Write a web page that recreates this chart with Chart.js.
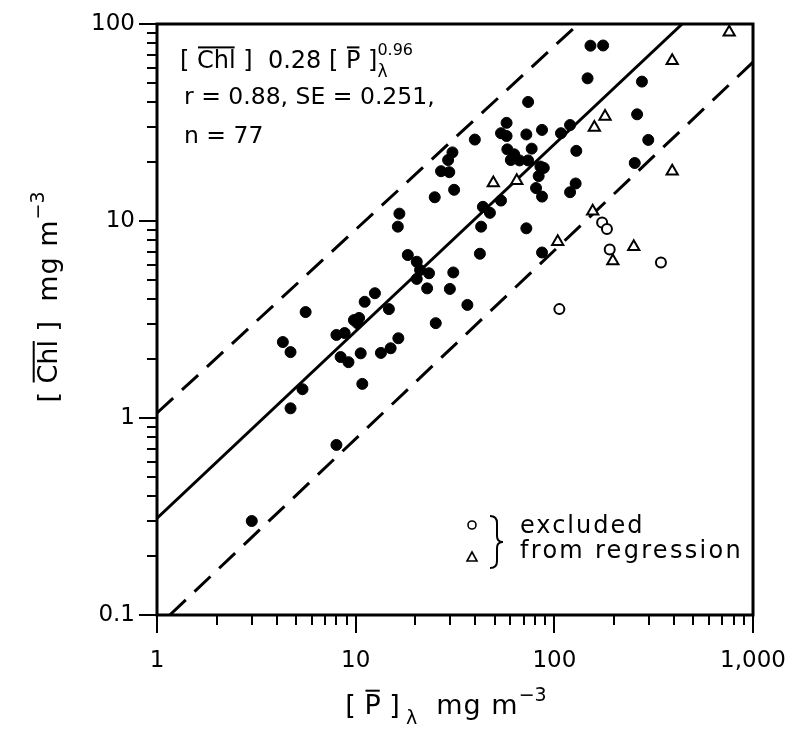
<!DOCTYPE html>
<html>
<head>
<meta charset="utf-8">
<script src="https://cdn.jsdelivr.net/npm/chart.js@4.4.1/dist/chart.umd.min.js"></script>
<style>
  html, body { margin: 0; padding: 0; background: #fff; }
  #wrap { width: 787px; height: 731px; }
</style>
</head>
<body>
<div id="wrap"><canvas id="myChart"></canvas></div>
<script>
// points used in the regression: [P]lambda (x) and [Chl] (y), mg m-3
const p_used = [3.0, 8.0, 4.7, 5.4, 10.8, 4.3, 4.7, 5.6, 8.0, 8.8, 8.4, 9.2, 9.8, 10.4, 10.2, 10.6,
  11.1, 12.5, 14.7, 13.4, 15.0, 16.4, 16.6, 16.3, 18.3, 20.3, 21.1, 23.4, 20.3, 22.9, 25.3, 31.0,
  29.8, 36.5, 25.0, 31.3, 26.9, 29.6, 30.7, 29.2, 39.8, 42.8, 42.2, 43.7, 47.4, 53.9, 57.5, 53.9,
  73.8, 72.3, 86.7, 108, 120, 129, 58.0, 62.8, 66.8, 73.8, 76.9, 85.1, 88.5, 83.4, 80.9, 86.7,
  120, 128, 72.3, 86.7, 147, 152, 176, 276, 261, 297, 254, 60.4, 57.5]
const chl_used = [0.30, 0.73, 1.12, 1.40, 1.49, 2.43, 2.16, 3.45, 2.64, 2.70, 2.04, 1.92, 3.14, 3.22, 3.03, 2.13,
  3.89, 4.30, 3.57, 2.14, 2.26, 2.54, 10.9, 9.36, 6.72, 6.21, 5.64, 5.43, 5.08, 4.55, 3.03, 5.48,
  4.52, 3.75, 13.2, 14.4, 17.9, 17.7, 22.3, 20.4, 25.9, 9.36, 6.82, 11.8, 11.0, 12.7, 31.5, 27.9,
  40.2, 27.5, 29.0, 27.9, 30.7, 22.7, 23.1, 21.8, 20.3, 20.3, 23.3, 18.9, 18.6, 16.9, 14.7, 13.3,
  14.0, 15.5, 9.18, 6.92, 53.0, 77.6, 77.8, 51.0, 34.8, 25.8, 19.7, 20.4, 27.0]

// excluded from regression
const p_excl_circle = [174, 184, 190, 344, 106]
const chl_excl_circle = [9.83, 9.11, 7.16, 6.16, 3.57]
const p_excl_tri = [759, 392, 180, 159, 392, 49.3, 64.7, 156, 104, 251, 197]
const chl_excl_tri = [90.8, 65.0, 33.9, 29.8, 17.9, 15.6, 16.0, 11.2, 7.85, 7.41, 6.27]

// regression line and dashed bounds, end points
const fit_p = [1, 440]
const fit_chl = [0.31, 100]
const upper_p = [1, 132]
const upper_chl = [1.06, 100]
const lower_p = [1.16, 1000]
const lower_chl = [0.1, 64]

const x_ticks = [1, 10, 100, 1000]
const y_ticks = [0.1, 1, 10, 100]

const FONT = '"DejaVu Sans"'

function toPoints(xs, ys) {
  return xs.map((x, i) => ({x: x, y: ys[i]}))
}

// draws a row of text pieces (overline, sub/superscript), returns width
function drawRuns(ctx, x, y, runs, measureOnly) {
  let cx = x
  let maxX = x
  for (const r of runs) {
    const size = r.size || 24
    ctx.font = size + 'px ' + FONT
    ctx.letterSpacing = (r.ls || 0) + 'px'
    const w = ctx.measureText(r.t).width
    const ry = y + (r.dy || 0)
    if (!measureOnly) {
      ctx.fillText(r.t, cx, ry)
      if (r.over) ctx.fillRect(cx + 1, ry - size * 0.9, w - 2, 2)
    }
    maxX = Math.max(maxX, cx + w)
    if (r.adv !== false) cx += w
  }
  ctx.letterSpacing = '0px'
  return maxX - x
}

const framePlugin = {
  id: 'frame',
  beforeDraw(chart) {
    const ctx = chart.ctx
    ctx.save()
    ctx.fillStyle = '#fff'
    ctx.fillRect(0, 0, chart.width, chart.height)
    ctx.restore()
  },
  afterDraw(chart) {
    const ctx = chart.ctx
    const a = chart.chartArea
    const xs = chart.scales.x
    const ys = chart.scales.y
    ctx.save()
    ctx.strokeStyle = '#000'
    ctx.fillStyle = '#000'

    // frame
    ctx.lineWidth = 3
    ctx.strokeRect(a.left, a.top, a.right - a.left, a.bottom - a.top)

    // minor ticks
    ctx.lineWidth = 2
    ctx.beginPath()
    for (const d of [1, 10, 100]) {
      for (let k = 2; k <= 9; k++) {
        const px = Math.round(xs.getPixelForValue(k * d))
        ctx.moveTo(px, a.bottom)
        ctx.lineTo(px, a.bottom + 10)
      }
    }
    for (const d of [0.1, 1, 10]) {
      for (let k = 2; k <= 9; k++) {
        const py = Math.round(ys.getPixelForValue(k * d))
        ctx.moveTo(a.left, py)
        ctx.lineTo(a.left - 10, py)
      }
    }
    ctx.stroke()

    ctx.textBaseline = 'alphabetic'
    ctx.textAlign = 'left'

    // equation block
    drawRuns(ctx, 180, 68, [
      {t: '['}, {t: ' '}, {t: 'Chl', over: true}, {t: ' ]'}, {t: '  0.28 '},
      {t: '[ '}, {t: 'P', over: true}, {t: ' ]'},
      {t: 'λ', size: 17, dy: 9, adv: false}, {t: '0.96', size: 16, dy: -13}
    ])
    drawRuns(ctx, 184, 104, [{t: 'r = 0.88, SE = 0.251,', size: 23.5}])
    drawRuns(ctx, 184, 143, [{t: 'n = 77', size: 23.5}])

    // legend for the excluded points
    ctx.lineWidth = 1.6
    ctx.beginPath()
    ctx.arc(472, 525, 4, 0, Math.PI * 2)
    ctx.stroke()
    ctx.beginPath()
    ctx.moveTo(472, 552)
    ctx.lineTo(477, 561)
    ctx.lineTo(467, 561)
    ctx.closePath()
    ctx.stroke()
    ctx.lineWidth = 2
    ctx.beginPath()
    ctx.moveTo(490, 516)
    ctx.quadraticCurveTo(497, 516, 497, 523)
    ctx.lineTo(497, 536)
    ctx.quadraticCurveTo(497, 542, 503, 542)
    ctx.quadraticCurveTo(497, 542, 497, 548)
    ctx.lineTo(497, 561)
    ctx.quadraticCurveTo(497, 568, 490, 568)
    ctx.stroke()
    drawRuns(ctx, 520, 533, [{t: 'excluded', ls: 2}])
    drawRuns(ctx, 520, 558, [{t: 'from regression', ls: 2.3}])

    // x axis title
    const xRuns = [
      {t: '[ ', size: 27}, {t: 'P', size: 27, over: true}, {t: ' ]', size: 27},
      {t: ' λ', size: 19, dy: 10}, {t: '  mg m', size: 27, ls: 1}, {t: '−3', size: 19, dy: -13}
    ]
    const xw = drawRuns(ctx, 0, 0, xRuns, true)
    drawRuns(ctx, 446 - xw / 2, 714, xRuns)

    // y axis title
    const yRuns = [
      {t: '[ ', size: 27}, {t: 'Chl', size: 27, over: true}, {t: ' ]', size: 27},
      {t: '  mg m', size: 27, ls: 1}, {t: '−3', size: 19, dy: -13}
    ]
    const yw = drawRuns(ctx, 0, 0, yRuns, true)
    ctx.translate(57, 297)
    ctx.rotate(-Math.PI / 2)
    drawRuns(ctx, -yw / 2, 0, yRuns)
    ctx.restore()
  }
}

const tickFont = {family: 'DejaVu Sans', size: 23}

const config = {
  type: 'scatter',
  data: {
    datasets: [
      {
        label: 'used',
        data: toPoints(p_used, chl_used),
        pointStyle: 'circle',
        pointRadius: 5.5,
        backgroundColor: '#000',
        borderColor: '#000',
        borderWidth: 1,
        order: 1
      },
      {
        label: 'excluded (circles)',
        data: toPoints(p_excl_circle, chl_excl_circle),
        pointStyle: 'circle',
        pointRadius: 5,
        backgroundColor: '#fff',
        borderColor: '#000',
        borderWidth: 2,
        order: 1
      },
      {
        label: 'excluded (triangles)',
        data: toPoints(p_excl_tri, chl_excl_tri),
        pointStyle: 'triangle',
        pointRadius: 6.5,
        backgroundColor: '#fff',
        borderColor: '#000',
        borderWidth: 2,
        order: 1
      },
      {
        label: 'fit',
        data: toPoints(fit_p, fit_chl),
        showLine: true,
        pointRadius: 0,
        borderColor: '#000',
        borderWidth: 3,
        order: 2
      },
      {
        label: 'upper',
        data: toPoints(upper_p, upper_chl),
        showLine: true,
        pointRadius: 0,
        borderColor: '#000',
        borderWidth: 3,
        borderDash: [22, 12],
        order: 2
      },
      {
        label: 'lower',
        data: toPoints(lower_p, lower_chl),
        showLine: true,
        pointRadius: 0,
        borderColor: '#000',
        borderWidth: 3,
        borderDash: [22, 12],
        order: 2
      }
    ]
  },
  options: {
    responsive: true,
    maintainAspectRatio: false,
    animation: false,
    layout: {padding: {top: 24, right: 34, left: 0, bottom: 0}},
    plugins: {
      legend: {display: false},
      tooltip: {enabled: false}
    },
    scales: {
      x: {
        type: 'logarithmic',
        min: 1,
        max: 1000,
        afterBuildTicks: s => { s.ticks = x_ticks.map(v => ({value: v})) },
        afterFit: s => {
          s.height = 116
          s.paddingLeft = 0
          s.paddingRight = 0
        },
        ticks: {
          callback: v => (v === 1000 ? '1,000' : String(v)),
          font: tickFont,
          color: '#000',
          padding: 14,
          maxRotation: 0,
          autoSkip: false
        },
        grid: {drawOnChartArea: false, drawTicks: true, tickLength: 18, color: '#000', lineWidth: 2},
        border: {display: false}
      },
      y: {
        type: 'logarithmic',
        min: 0.1,
        max: 100,
        afterBuildTicks: s => { s.ticks = y_ticks.map(v => ({value: v})) },
        afterFit: s => {
          s.width = 157
          s.paddingTop = 0
          s.paddingBottom = 0
        },
        ticks: {
          callback: v => String(v),
          font: tickFont,
          color: '#000',
          padding: 4,
          autoSkip: false
        },
        grid: {drawOnChartArea: false, drawTicks: true, tickLength: 18, color: '#000', lineWidth: 2},
        border: {display: false}
      }
    }
  },
  plugins: [framePlugin]
}

const myChart = new Chart(document.getElementById('myChart'), config)
</script>
</body>
</html>
